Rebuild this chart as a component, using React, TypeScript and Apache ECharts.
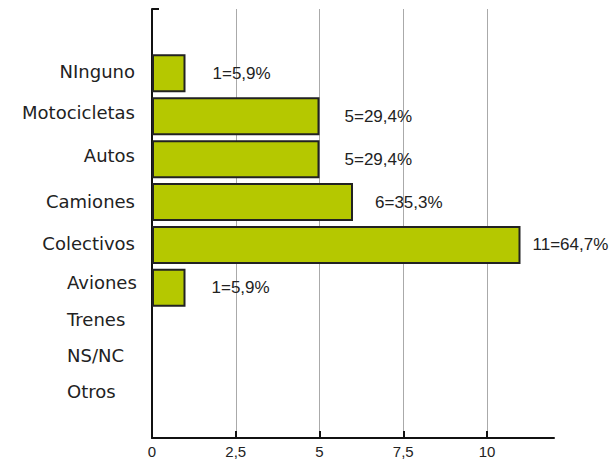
import React, { useEffect, useRef } from "react";
import * as echarts from "echarts";

const categories = ["", "NInguno", "Motocicletas", "Autos", "Camiones", "Colectivos", "Aviones", "Trenes", "NS/NC", "Otros"];
const counts: (number | null)[] = [null, 1, 5, 5, 6, 11, 1, null, null, null];
const percentLabels = ["", "1=5,9%", "5=29,4%", "5=29,4%", "6=35,3%", "11=64,7%", "1=5,9%", "", "", ""];
const xMax = 12;
const xInterval = 2.5;

// label styling per category index (visual only)
const labelShift: Record<number, number> = { 1: 2, 2: 4, 3: 4, 4: 1, 5: 1, 6: 5, 7: 11, 8: 18, 9: 25 };
const leftAligned = new Set([6, 7, 8, 9]);
const valueLabelDist: Record<number, number> = { 1: 27, 2: 25, 3: 25, 4: 22, 5: 12, 6: 26 };

export default function App() {
  const ref = useRef<HTMLDivElement>(null);
  useEffect(() => {
    if (!ref.current) return;
    const chart = echarts.init(ref.current, null, { renderer: "svg" });
    const rich: Record<string, any> = {};
    categories.forEach((_, i) => {
      const s = labelShift[i] || 0;
      rich["c" + i] = {
        fontFamily: "DejaVu Sans",
        fontSize: 18,
        color: "#222",
        padding: [0, 0, s * 2, 0],
        ...(leftAligned.has(i) ? { width: 68, align: "left" } : {}),
      };
    });
    chart.setOption({
      animation: false,
      grid: { left: 152, right: 60, top: 9, bottom: 21, containLabel: false },
      xAxis: {
        type: "value",
        min: 0,
        max: xMax,
        interval: xInterval,
        axisLine: { show: true, lineStyle: { color: "#111", width: 2 } },
        axisTick: { show: true, inside: true, length: 7, lineStyle: { color: "#111", width: 2 } },
        axisLabel: {
          showMaxLabel: false,
          color: "#222",
          fontFamily: "Liberation Sans",
          fontSize: 15,
          margin: 6,
          formatter: (v: number) => String(v).replace(".", ","),
        },
        splitLine: { show: true, showMinLine: false, showMaxLine: false, lineStyle: { color: "#aaa", width: 1 } },
      },
      yAxis: {
        type: "category",
        inverse: true,
        data: categories,
        axisLine: { show: true, lineStyle: { color: "#111", width: 2 } },
        axisTick: {
          show: true,
          inside: true,
          length: 7,
          interval: (index: number) => index === 0,
          lineStyle: { color: "#111", width: 2 },
        },
        axisLabel: {
          margin: 17,
          formatter: (v: string, i: number) => (v ? `{c${i}|${v}}` : ""),
          rich,
        },
        splitLine: { show: false },
      },
      series: [
        {
          type: "bar",
          barWidth: 38,
          data: counts.map((v, i) => ({
            value: v,
            label: {
              show: v != null,
              position: "right",
              distance: valueLabelDist[i] || 20,
              formatter: percentLabels[i],
              color: "#222",
              fontFamily: "Liberation Sans",
              fontSize: 17,
            },
          })),
          itemStyle: { color: "#b5c800", borderColor: "#222", borderWidth: 2 },
        },
      ],
    });
    return () => chart.dispose();
  }, []);
  return <div ref={ref} style={{ position: "absolute", left: 0, top: 0, width: 614, height: 459 }} />;
}
